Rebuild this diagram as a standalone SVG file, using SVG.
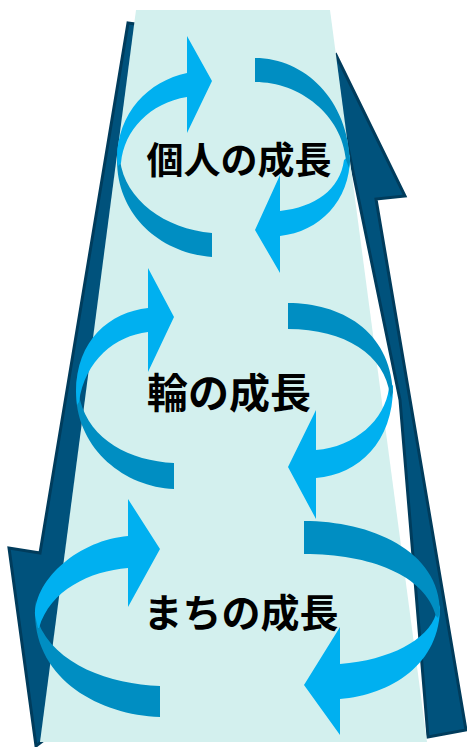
<svg xmlns="http://www.w3.org/2000/svg" width="467" height="747" viewBox="0 0 467 747">
<style>
.dk{fill:#00527C;stroke:#003C5C;stroke-width:3;stroke-linejoin:miter}
.bg{fill:#D3F0EE}
.br{fill:#00B0F0}
.dm{fill:#008EC2}
.lbl{font-family:"Noto Sans CJK JP","Noto Sans CJK SC",sans-serif;font-weight:700;fill:#000;text-anchor:middle;dominant-baseline:central}
</style>
<g id="backdrop">
<polygon class="dk" points="336,55 405,196 376,199 466,730 428,737 400,400 330,60"/>
<polygon class="dk" points="128,23 136,24 100,400 44,740 36,746 9,548 40,553"/>
<polygon class="bg" points="136,10 330,10 427,742 40,742"/>
</g>
<g id="ring-personal">
<path class="dm" d="M117,145 L117,160 C117,215 160,253 212,257 L212,233 C165,229 125,200 120,160 Z"/>
<path class="br" d="M118,166 L117,160 C117,112 149,81 187,73 L187,36 L212,81 L187,133 L187,97 C150,103 124,130 121,163 Z"/>
<path class="br" d="M350,155 C351,200 320,232 280,236 L280,273 L255,230 L280,175 L280,211 C315,207 340,190 344,160 Z"/>
<path class="dm" d="M255,58 C305,58 348,100 350,162 L349,168 L346,160 C342,115 300,82 255,82 Z"/>
<text class="lbl" x="239" y="158" font-size="37">個人の成長</text>
</g>
<g id="ring-circle">
<path class="dm" d="M77,378 L76,395 C78,450 125,487 174,489 L174,463 C130,461 90,440 80,400 Z"/>
<path class="br" d="M77,405 L76,392 C76,340 110,312 148,308 L148,268 L174,317 L148,372 L148,332 C115,336 85,360 79,402 Z"/>
<path class="br" d="M393,385 C394,440 360,475 316,478 L316,519 L288,467 L316,410 L316,450 C355,447 385,420 389,388 Z"/>
<path class="dm" d="M288,303 C340,303 390,330 393,392 L391,398 L390,395 C385,355 345,329 288,329 Z"/>
<text class="lbl" x="229" y="390" font-size="41">輪の成長</text>
</g>
<g id="ring-town">
<path class="dm" d="M36,600 L35,614 C36,680 100,715 160,717 L160,686 C110,684 55,665 38,622 Z"/>
<path class="br" d="M38,628 L35,615 C35,578 80,540 128,536 L128,499 L160,549 L128,607 L128,568 C90,571 50,590 39,628 Z"/>
<path class="br" d="M440,605 C441,665 390,695 340,699 L340,735 L304,685 L340,627 L340,664 C390,660 428,640 436,614 Z"/>
<path class="dm" d="M304,521 C370,521 440,550 440,612 L438,618 L436,616 C425,575 370,554 304,554 Z"/>
<text class="lbl" x="241" y="610" font-size="39">まちの成長</text>
</g>
</svg>
